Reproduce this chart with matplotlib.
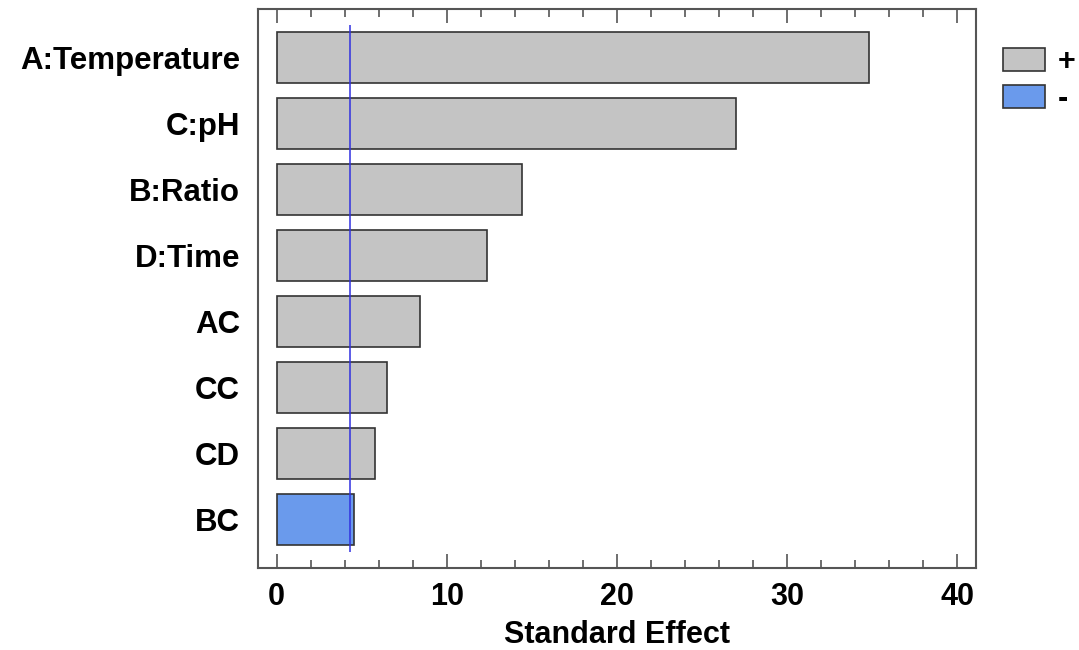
import matplotlib
matplotlib.use("Agg")
import matplotlib.pyplot as plt
from matplotlib.patches import Patch
from matplotlib.ticker import MultipleLocator

# ── Data (top to bottom) ─────────────────────────────────────────────────
factors = ["A:Temperature", "C:pH", "B:Ratio", "D:Time", "AC", "CC", "CD", "BC"]
effects = [34.8, 27.0, 14.4, 12.35, 8.4, 6.5, 5.75, 4.55]
signs   = ["+", "+", "+", "+", "+", "+", "+", "-"]
critical = 4.3

GRAY = "#C4C4C4"
BLUE = "#6A9AEC"
FRAME = "#555555"
FONT = "Liberation Sans"

fig = plt.figure(figsize=(10.79, 6.5), dpi=100)
ax = fig.add_axes([258 / 1079, 1 - 568 / 650, (976 - 258) / 1079, (568 - 9) / 650])

n = len(factors)
ypos = [n - 1 - i for i in range(n)]
colors = [GRAY if s == "+" else BLUE for s in signs]
ax.barh(ypos, effects, height=0.78, left=0, color=colors,
        edgecolor="#333333", linewidth=1.2, zorder=2)
ax.vlines(critical, -0.5, n - 0.5, color="#3030E0", linewidth=1.1, zorder=3)

ax.set_xlim(-1.1, 41.1)
ax.set_ylim(-0.74, n - 1 + 0.74)

ax.set_yticks(ypos)
ax.set_yticklabels(factors, fontsize=22.5, fontweight="bold", family=FONT)
ax.tick_params(axis="y", length=0, pad=13)

ax.xaxis.set_major_locator(MultipleLocator(10))
ax.xaxis.set_minor_locator(MultipleLocator(2))
ax.tick_params(axis="x", which="both", direction="in", top=True,
               color=FRAME, width=1.2)
ax.tick_params(axis="x", which="major", length=10, pad=10)
ax.tick_params(axis="x", which="minor", length=6)
for lab in ax.get_xticklabels():
    lab.set_fontsize(22)
    lab.set_fontweight("bold")
    lab.set_family(FONT)
ax.set_xlabel("Standard Effect", fontsize=22, fontweight="bold",
              family=FONT, labelpad=6)

for sp in ax.spines.values():
    sp.set_color(FRAME)
    sp.set_linewidth(1.5)

handles = [Patch(facecolor=GRAY, edgecolor="#333333", linewidth=1.2, label="+"),
           Patch(facecolor=BLUE, edgecolor="#333333", linewidth=1.2, label="-")]
fig.legend(handles=handles, loc="upper left",
           bbox_to_anchor=(1003 / 1079, 1 - 47 / 650),
           frameon=False, borderpad=0, borderaxespad=0,
           handlelength=1.37, handleheight=0.75,
           handletextpad=0.42, labelspacing=0.23,
           prop={"family": FONT, "weight": "bold", "size": 22})

fig.savefig("out.png", dpi=100)
